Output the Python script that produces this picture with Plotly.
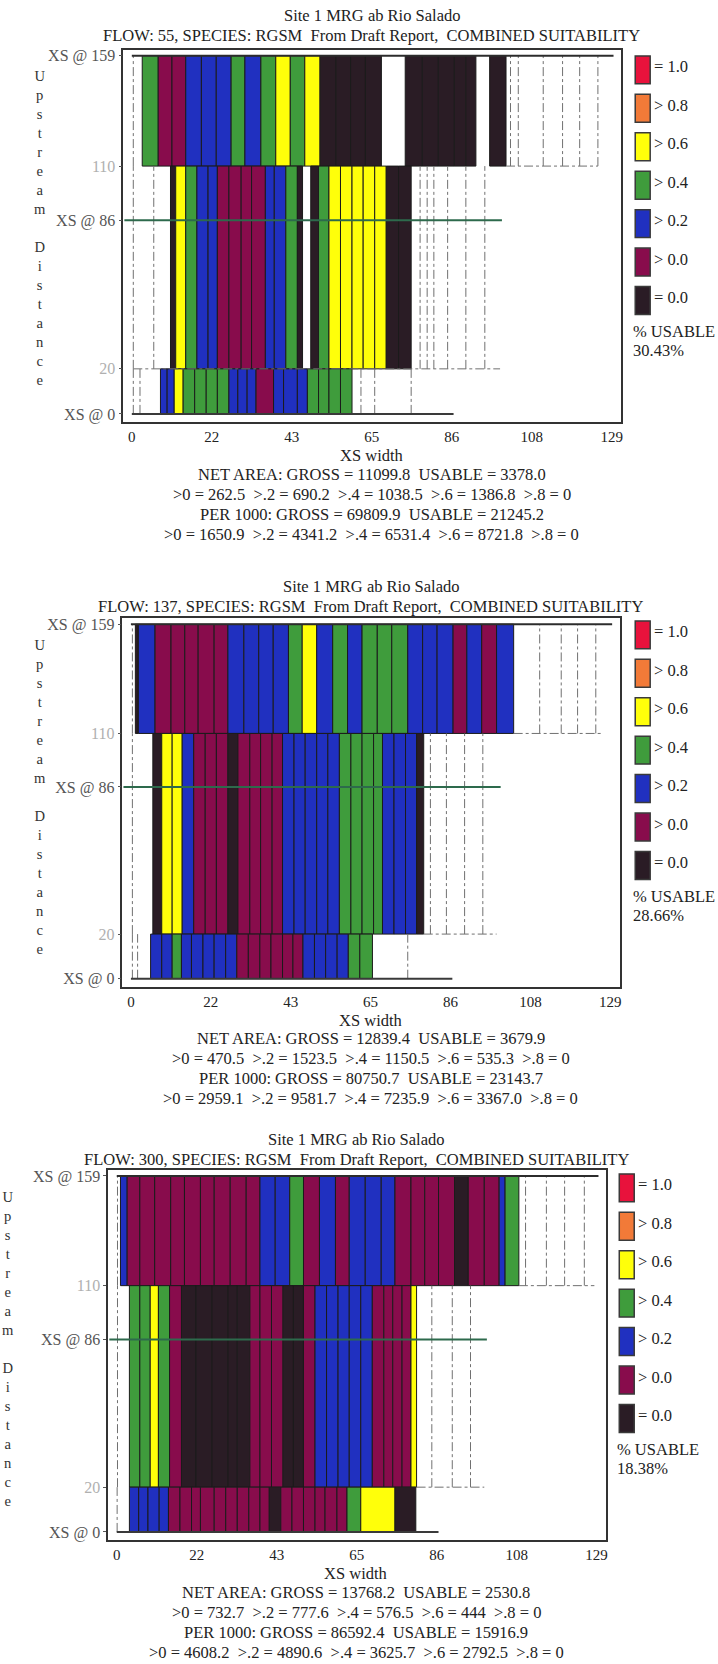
import plotly.graph_objects as go

FIG_W, FIG_H = 718, 1664
FONT = "Liberation Serif"

# ---------------- legend / classes ----------------
CLASS_CODES = ["1", "8", "6", "4", "2", "0", "Z"]
CLASS_COLORS = ["#e8123c", "#f27a38", "#ffff0a", "#3f9c3c", "#2030c0", "#880c4c", "#2a1c25"]
LEGEND_LABELS = ["= 1.0", "> 0.8", "> 0.6", "> 0.4", "> 0.2", "> 0.0", "= 0.0"]

# ---------------- axes ----------------
X_TICK_VALS = [0, 21.5, 43, 64.5, 86, 107.5, 129]
X_TICK_TEXT = ["0", "22", "43", "65", "86", "108", "129"]
Y_TICK_VALS = [0, 20, 86, 110, 159]
Y_TICK_TEXT = ["XS @ 0", "<span style='color:#b0b0b0'>20</span>", "XS @ 86",
               "<span style='color:#b0b0b0'>110</span>", "XS @ 159"]

# band limits (upstream distance)
BAND_TOP = (110, 159)
BAND_MID = (20, 110)
BAND_BOT = (0, 20)

# cross-section lines
XS_LINE_Y = [159, 86, 0]
XS_LINE_X0 = [0, -2, 0]
XS_LINE_X1 = [129.5, 99.5, 86.5]

# ---------------- panel 1 : FLOW 55 ----------------
P1_TOP_EDGES = [2.8, 7.1, 10.8, 14.5, 18.7, 22.7, 26.7, 30.4, 34.7, 38.7, 42.6, 46.5, 50.6, 54.9,
                58.8, 62.8, 67.1, 73.5, 78.1, 82.4, 86.7, 89.8, 92.5, 96.2, 100.6]
P1_TOP_CLASS = ["4", "0", "0", "2", "2", "2", "4", "2", "4", "6", "4", "6", "Z", "Z", "Z", "Z",
                "", "Z", "Z", "Z", "Z", "Z", "", "Z"]
P1_TOP_DASH = [0.4, 101.8, 103.9, 110.6, 115.8, 120.4, 125.3]
P1_TOP_DASH_SPAN = [100.6, 125.3]

P1_MID_EDGES = [10.4, 11.8, 14.5, 17.5, 20.5, 23.0, 26.1, 29.4, 32.2, 35.9, 38.3, 41.4, 44.5, 45.9,
                48.1, 50.2, 53.0, 56.1, 59.2, 62.2, 65.3, 68.4, 71.7, 75.1]
P1_MID_CLASS = ["Z", "6", "4", "2", "2", "0", "0", "0", "0", "2", "2", "4", "Z", "", "Z", "4",
                "6", "6", "6", "6", "6", "Z", "Z"]
P1_MID_DASH = [0.4, 5.9, 77.5, 79.4, 81.2, 84.9, 89.8, 94.9]
P1_MID_DASH_SPAN = [0.4, 99.0]

P1_BOT_EDGES = [7.7, 9.5, 11.4, 13.8, 16.9, 20.0, 23.0, 26.1, 28.5, 31.0, 33.4, 38.1, 40.8, 44.5,
                47.2, 50.2, 53.0, 56.1, 59.2]
P1_BOT_CLASS = ["2", "2", "6", "4", "4", "4", "4", "2", "2", "2", "0", "2", "2", "2", "4", "4", "4", "4"]
P1_BOT_DASH = [0.4, 2.2, 61.6, 65.3, 75.1]

P1_TITLE = "FLOW: 55, SPECIES: RGSM\u00a0 From Draft Report,\u00a0 COMBINED SUITABILITY"
P1_STATS = ["NET AREA: GROSS = 11099.8\u00a0 USABLE = 3378.0",
            ">0 = 262.5\u00a0 >.2 = 690.2\u00a0 >.4 = 1038.5\u00a0 >.6 = 1386.8\u00a0 >.8 = 0",
            "PER 1000: GROSS = 69809.9\u00a0 USABLE = 21245.2",
            ">0 = 1650.9\u00a0 >.2 = 4341.2\u00a0 >.4 = 6531.4\u00a0 >.6 = 8721.8\u00a0 >.8 = 0"]
P1_USABLE = "30.43%"

# ---------------- panel 2 : FLOW 137 ----------------
P2_TOP_EDGES = [1.2, 2.0, 6.5, 10.8, 14.5, 18.1, 22.4, 26.1, 30.4, 34.4, 38.3, 42.4, 46.1, 50.0,
                54.3, 58.3, 62.2, 66.3, 70.2, 74.5, 78.5, 82.4, 86.7, 90.4, 94.4, 98.4, 103.0]
P2_TOP_CLASS = ["Z", "2", "0", "0", "0", "0", "0", "2", "2", "2", "2", "4", "6", "2", "4", "2",
                "4", "4", "4", "2", "2", "2", "0", "2", "0", "2"]
P2_TOP_DASH = [0.4, 110.0, 115.8, 120.2, 125.1]
P2_TOP_DASH_SPAN = [103.0, 127.0]

P2_MID_EDGES = [5.9, 8.3, 11.1, 13.8, 16.9, 20.0, 23.0, 26.1, 28.8, 32.0, 34.9, 38.0, 40.8, 43.9,
                46.9, 50.0, 53.0, 56.1, 59.2, 62.2, 65.3, 67.7, 70.8, 73.9, 76.9, 78.8]
P2_MID_CLASS = ["Z", "6", "6", "2", "0", "0", "0", "Z", "0", "0", "0", "0", "2", "2", "2", "2",
                "2", "4", "4", "4", "4", "2", "2", "2", "Z"]
P2_MID_DASH = [0.4, 80.6, 84.9, 89.8, 94.7]
P2_MID_DASH_SPAN = [78.8, 98.4]

P2_BOT_EDGES = [5.3, 8.3, 11.1, 13.6, 16.3, 19.4, 22.4, 25.5, 28.5, 31.6, 34.7, 37.7, 40.8, 43.6,
                46.3, 49.4, 52.4, 55.5, 58.5, 61.6, 65.0]
P2_BOT_CLASS = ["2", "2", "4", "2", "2", "2", "2", "2", "0", "0", "0", "0", "0", "0", "2", "2",
                "2", "2", "4", "4"]
P2_BOT_DASH = [0.4, 1.8, 74.5]

P2_TITLE = "FLOW: 137, SPECIES: RGSM\u00a0 From Draft Report,\u00a0 COMBINED SUITABILITY"
P2_STATS = ["NET AREA: GROSS = 12839.4\u00a0 USABLE = 3679.9",
            ">0 = 470.5\u00a0 >.2 = 1523.5\u00a0 >.4 = 1150.5\u00a0 >.6 = 535.3\u00a0 >.8 = 0",
            "PER 1000: GROSS = 80750.7\u00a0 USABLE = 23143.7",
            ">0 = 2959.1\u00a0 >.2 = 9581.7\u00a0 >.4 = 7235.9\u00a0 >.6 = 3367.0\u00a0 >.8 = 0"]
P2_USABLE = "28.66%"

# ---------------- panel 3 : FLOW 300 ----------------
P3_TOP_EDGES = [1.0, 2.8, 6.2, 10.2, 14.5, 18.2, 22.5, 26.2, 30.5, 34.8, 38.5, 42.6, 46.5, 50.2,
                54.5, 58.8, 62.5, 66.8, 71.1, 74.8, 79.1, 82.8, 86.5, 90.8, 94.5, 98.8, 102.8, 104.4, 108.1]
P3_TOP_CLASS = ["2", "0", "0", "0", "0", "0", "0", "0", "0", "0", "2", "2", "4", "0", "2", "0",
                "2", "2", "2", "0", "0", "0", "0", "Z", "0", "0", "2", "4"]
P3_TOP_DASH = [0.2, 109.9, 115.5, 120.4, 125.7]
P3_TOP_DASH_SPAN = [108.1, 128.4]

P3_MID_EDGES = [3.4, 6.2, 9.0, 11.2, 14.2, 17.4, 21.3, 25.6, 29.9, 32.4, 35.8, 38.5, 41.6, 44.7,
                47.5, 50.2, 53.3, 56.4, 59.5, 62.5, 65.6, 68.7, 71.8, 74.2, 76.7, 79.1, 80.6]
P3_MID_CLASS = ["4", "4", "6", "4", "0", "Z", "Z", "Z", "Z", "Z", "0", "0", "0", "Z", "Z", "0",
                "2", "2", "2", "2", "2", "0", "0", "0", "0", "6"]
P3_MID_DASH = [0.2, 84.7, 90.2, 95.1]
P3_MID_DASH_SPAN = [80.6, 98.8]

P3_BOT_EDGES = [3.4, 5.9, 8.4, 11.4, 13.9, 17.0, 20.1, 22.5, 26.2, 29.3, 32.4, 35.5, 38.5, 41.0,
                44.1, 47.1, 50.2, 53.3, 56.0, 59.2, 61.9, 65.6, 74.8, 80.4]
P3_BOT_CLASS = ["2", "2", "2", "2", "0", "0", "0", "0", "0", "0", "0", "0", "0", "Z", "0", "0",
                "0", "0", "0", "0", "4", "6", "Z"]
P3_BOT_DASH = [0.1]

P3_TITLE = "FLOW: 300, SPECIES: RGSM\u00a0 From Draft Report,\u00a0 COMBINED SUITABILITY"
P3_STATS = ["NET AREA: GROSS = 13768.2\u00a0 USABLE = 2530.8",
            ">0 = 732.7\u00a0 >.2 = 777.6\u00a0 >.4 = 576.5\u00a0 >.6 = 444\u00a0 >.8 = 0",
            "PER 1000: GROSS = 86592.4\u00a0 USABLE = 15916.9",
            ">0 = 4608.2\u00a0 >.2 = 4890.6\u00a0 >.4 = 3625.7\u00a0 >.6 = 2792.5\u00a0 >.8 = 0"]
P3_USABLE = "18.38%"

SITE = "Site 1 MRG ab Rio Salado"

PANELS = [
    dict(bands=[(BAND_TOP, P1_TOP_EDGES, P1_TOP_CLASS, P1_TOP_DASH, P1_TOP_DASH_SPAN),
                (BAND_MID, P1_MID_EDGES, P1_MID_CLASS, P1_MID_DASH, P1_MID_DASH_SPAN),
                (BAND_BOT, P1_BOT_EDGES, P1_BOT_CLASS, P1_BOT_DASH, None)],
         title=P1_TITLE, stats=P1_STATS, usable=P1_USABLE,
         left=123.6, right=622.7, top=47.7, bottom=421.0, cx=373, ttl=(-34, -14),
         lab_x=40, leg_dx=0, leg_dy=0),
    dict(bands=[(BAND_TOP, P2_TOP_EDGES, P2_TOP_CLASS, P2_TOP_DASH, P2_TOP_DASH_SPAN),
                (BAND_MID, P2_MID_EDGES, P2_MID_CLASS, P2_MID_DASH, P2_MID_DASH_SPAN),
                (BAND_BOT, P2_BOT_EDGES, P2_BOT_CLASS, P2_BOT_DASH, None)],
         title=P2_TITLE, stats=P2_STATS, usable=P2_USABLE,
         left=122.7, right=621.3, top=617.3, bottom=986.7, cx=372, ttl=(-32, -12),
         lab_x=40, leg_dx=0, leg_dy=566),
    dict(bands=[(BAND_TOP, P3_TOP_EDGES, P3_TOP_CLASS, P3_TOP_DASH, P3_TOP_DASH_SPAN),
                (BAND_MID, P3_MID_EDGES, P3_MID_CLASS, P3_MID_DASH, P3_MID_DASH_SPAN),
                (BAND_BOT, P3_BOT_EDGES, P3_BOT_CLASS, P3_BOT_DASH, None)],
         title=P3_TITLE, stats=P3_STATS, usable=P3_USABLE,
         left=108.5, right=607.6, top=1170.0, bottom=1541.0, cx=357, ttl=(-30, -10),
         lab_x=8, leg_dx=-16, leg_dy=1120),
]

X_RANGE = [-2.3, 131.5]
Y_RANGE = [-3.7, 161.7]
COLOR_OF = dict(zip(CLASS_CODES, CLASS_COLORS))
TXT = 16.5
TICK = 15


def px_x(px):
    return px / FIG_W


def px_y(py):
    return 1 - py / FIG_H


fig = go.Figure()
shapes, annotations = [], []
layout_axes = {}

for i, p in enumerate(PANELS):
    n = i + 1
    xa = "x" if n == 1 else f"x{n}"
    ya = "y" if n == 1 else f"y{n}"

    # dashed (empty-cell) verticals and horizontals
    dx_, dy_ = [], []
    for (y0, y1), edges, cls, dashes, span in p["bands"]:
        for d in dashes:
            dx_ += [d, d, None]
            dy_ += [y0, y1, None]
        if span:
            dx_ += [span[0], span[1], None]
            dy_ += [y0, y0, None]
    fig.add_trace(go.Scatter(x=dx_, y=dy_, mode="lines", xaxis=xa, yaxis=ya,
                             line=dict(color="#707070", width=1, dash="dashdot"),
                             hoverinfo="skip", showlegend=False))

    # colored cells
    for (y0, y1), edges, cls, dashes, span in p["bands"]:
        cx, w, c = [], [], []
        for k, code in enumerate(cls):
            if not code:
                continue
            a, b = edges[k], edges[k + 1]
            cx.append((a + b) / 2)
            w.append(b - a)
            c.append(COLOR_OF[code])
        fig.add_trace(go.Bar(x=cx, y=[y1 - y0] * len(cx), base=[y0] * len(cx), width=w,
                             xaxis=xa, yaxis=ya, marker=dict(color=c, line=dict(color="#1b1b1b", width=1)),
                             hoverinfo="skip", showlegend=False))

    # cross-section lines
    line_cols = ["#2c2c2c", "#2d6a4c", "#3a3a3a"]
    for yv, x0, x1, lc in zip(XS_LINE_Y, XS_LINE_X0, XS_LINE_X1, line_cols):
        fig.add_trace(go.Scatter(x=[x0, x1], y=[yv, yv], mode="lines", xaxis=xa, yaxis=ya,
                                 line=dict(color=lc, width=2), hoverinfo="skip", showlegend=False))

    layout_axes["xaxis" if n == 1 else f"xaxis{n}"] = dict(
        domain=[px_x(p["left"]), px_x(p["right"])], anchor=ya, range=X_RANGE,
        tickvals=X_TICK_VALS, ticktext=X_TICK_TEXT, ticks="", showgrid=False, zeroline=False,
        showline=True, mirror=True, linecolor="#333", linewidth=1.5,
        tickfont=dict(family=FONT, size=TICK, color="#222"))
    layout_axes["yaxis" if n == 1 else f"yaxis{n}"] = dict(
        domain=[px_y(p["bottom"]), px_y(p["top"])], anchor=xa, range=Y_RANGE,
        tickvals=Y_TICK_VALS, ticktext=Y_TICK_TEXT, ticks="outside", ticklen=3, tickcolor="#555",
        showgrid=False, zeroline=False, showline=True, mirror=True, linecolor="#333", linewidth=1.5,
        tickfont=dict(family=FONT, size=16, color="#555"))

    # titles
    tfont = dict(family=FONT, size=TXT, color="#222")
    annotations.append(dict(text=SITE, x=px_x(p["cx"]), y=px_y(p["top"] + p["ttl"][0]),
                            xref="paper", yref="paper", showarrow=False, xanchor="center",
                            yanchor="middle", font=tfont))
    annotations.append(dict(text=p["title"], x=px_x(p["cx"]), y=px_y(p["top"] + p["ttl"][1]),
                            xref="paper", yref="paper", showarrow=False, xanchor="center",
                            yanchor="middle", font=tfont))
    # bottom text
    lines = ["XS width"] + p["stats"]
    for j, t in enumerate(lines):
        yy = p["bottom"] + 33.5 + 20 * j - (1.5 if j else 0)
        annotations.append(dict(text=t, x=px_x(p["cx"]), y=px_y(yy),
                                xref="paper", yref="paper", showarrow=False, xanchor="center",
                                yanchor="middle", font=tfont))
    # vertical y title
    letters = list("Upstream") + ["\u00a0"] + list("Distance")
    annotations.append(dict(text="<br>".join(letters), x=px_x(p["lab_x"]), y=px_y(p["top"] + 179),
                            xref="paper", yref="paper", showarrow=False, xanchor="center",
                            yanchor="middle", font=dict(family=FONT, size=14.6, color="#333")))

    # legend
    ldx, ldy = p["leg_dx"], p["leg_dy"]
    for k, (col, lab) in enumerate(zip(CLASS_COLORS, LEGEND_LABELS)):
        top = 54 + ldy + k * 38.5
        shapes.append(dict(type="rect", xref="paper", yref="paper",
                           x0=px_x(637 + ldx), x1=px_x(652 + ldx), y0=px_y(top + 28), y1=px_y(top),
                           fillcolor=col, line=dict(color="#3a3a3a", width=1.5)))
        annotations.append(dict(text=lab, x=px_x(654 + ldx), y=px_y(top + 11), xref="paper",
                                yref="paper", showarrow=False, xanchor="left", yanchor="middle",
                                font=dict(family=FONT, size=TXT, color="#222")))
    annotations.append(dict(text="% USABLE", x=px_x(633 + ldx), y=px_y(330.5 + ldy), xref="paper",
                            yref="paper", showarrow=False, xanchor="left", yanchor="middle",
                            font=dict(family=FONT, size=TXT, color="#222")))
    annotations.append(dict(text=p["usable"], x=px_x(633 + ldx), y=px_y(349 + ldy), xref="paper",
                            yref="paper", showarrow=False, xanchor="left", yanchor="middle",
                            font=dict(family=FONT, size=TXT, color="#222")))

fig.update_layout(width=FIG_W, height=FIG_H, margin=dict(l=0, r=0, t=0, b=0),
                  paper_bgcolor="white", plot_bgcolor="white", barmode="overlay",
                  showlegend=False, shapes=shapes, annotations=annotations, **layout_axes)

fig.write_html("out.html")
